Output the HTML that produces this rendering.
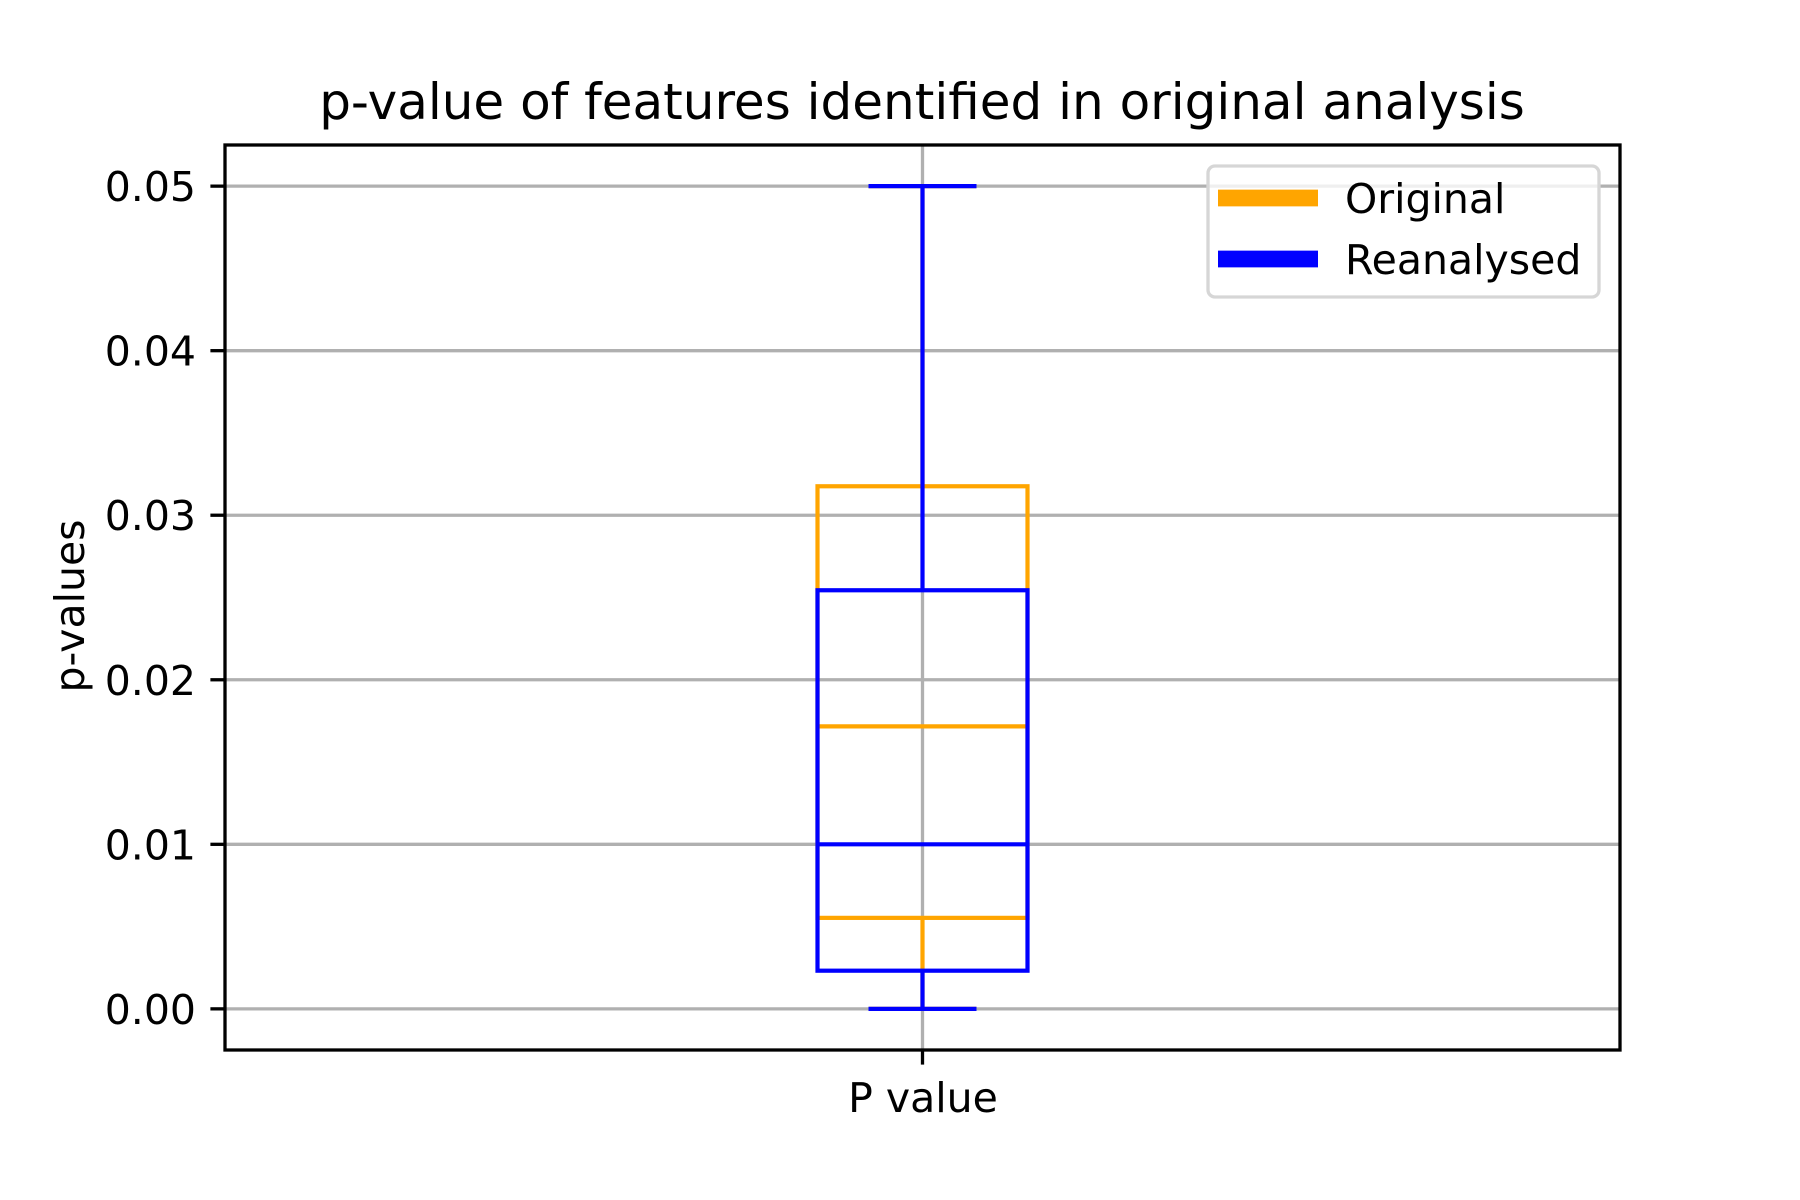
<!DOCTYPE html>
<html><head><meta charset="utf-8"><style>
html,body{margin:0;padding:0;background:#fff;}
svg{display:block;font-family:"DejaVu Sans","Liberation Sans",sans-serif;}
</style></head><body>
<svg id="chart" width="1800" height="1200" viewBox="0 0 1800 1200" xmlns="http://www.w3.org/2000/svg">
<rect x="0" y="0" width="1800" height="1200" fill="#fff"/>
<g id="grid"></g>
<g id="marks"></g>
<g id="axes"></g>
<text x="922" y="119" font-size="50" text-anchor="middle" fill="#000">p-value of features identified in original analysis</text>
<text transform="translate(84,606) rotate(-90)" font-size="41" text-anchor="middle" fill="#000">p-values</text>
<text x="923" y="1112" font-size="41" text-anchor="middle" fill="#000">P value</text>
<g>
<rect x="1208" y="166" width="391" height="131" rx="7" fill="#fff" fill-opacity="0.8" stroke="#d6d6d6" stroke-width="3.3"/>
<line x1="1218" y1="198" x2="1318" y2="198" stroke="#ffa500" stroke-width="16.7"/>
<text x="1345" y="213" font-size="41" fill="#000">Original</text>
<line x1="1218" y1="259" x2="1318" y2="259" stroke="#0000ff" stroke-width="16.7"/>
<text x="1345" y="274" font-size="41" fill="#000">Reanalysed</text>
</g>
</svg>
<script>
const seriesNames = ["Original", "Reanalysed"];
const seriesColors = ["#ffa500", "#0000ff"];
const q1Values = [0.00553, 0.00232];
const medianValues = [0.01717, 0.0100];
const q3Values = [0.03176, 0.02544];
const whiskerLow = [0.0, 0.0];
const whiskerHigh = [0.05, 0.05];
const yTicks = [0, 0.01, 0.02, 0.03, 0.04, 0.05];
const yTickLabels = ["0.00", "0.01", "0.02", "0.03", "0.04", "0.05"];
const xCategories = ["P value"];

const NS = "http://www.w3.org/2000/svg";
const L = 225, R = 1620, T = 145, B = 1050;
const yMin = -0.0025, yMax = 0.0525;
function yScale(v){ return B - (v - yMin) / (yMax - yMin) * (B - T); }
function xScale(i){ return L + (i + 0.5) / xCategories.length * (R - L); }
function mk(tag, attrs, parent){ const e = document.createElementNS(NS, tag); for (const k in attrs) e.setAttribute(k, attrs[k]); parent.appendChild(e); return e; }

const grid = document.getElementById('grid');
const marks = document.getElementById('marks');
const axes = document.getElementById('axes');

yTicks.forEach((t, i) => {
  const y = yScale(t);
  const g = mk('line', {x1: L, x2: R, y1: y, y2: y, stroke: '#b0b0b0', 'stroke-width': 3.3}, grid);
  
  
  const tk = mk('line', {x1: L - 14.6, x2: L, y1: y, y2: y, stroke: '#000', 'stroke-width': 3.3}, axes);
  
  
  const tx = mk('text', {x: L - 29, y: y + 15, 'font-size': 41, 'text-anchor': 'end', fill: '#000'}, axes);
  tx.textContent = yTickLabels[i];
  
  
});
xCategories.forEach((c, i) => {
  const x = xScale(i);
  const g = mk('line', {x1: x, x2: x, y1: T, y2: B, stroke: '#b0b0b0', 'stroke-width': 3.3}, grid);
  
  
  const tk = mk('line', {x1: x, x2: x, y1: B, y2: B + 14.6, stroke: '#000', 'stroke-width': 3.3}, axes);
  
  
});

const halfBox = 105, halfCap = 54;
seriesNames.forEach((name, s) => {
  const x = xScale(0), col = seriesColors[s];
  const grp = mk('g', {fill: 'none', stroke: col, 'stroke-width': 4.2}, marks);
  
  
  const wl = mk('line', {x1: x, x2: x, y1: yScale(q1Values[s]), y2: yScale(whiskerLow[s])}, grp);
  
  
  const wh = mk('line', {x1: x, x2: x, y1: yScale(q3Values[s]), y2: yScale(whiskerHigh[s])}, grp);
  
  
  const cl = mk('line', {x1: x - halfCap, x2: x + halfCap, y1: yScale(whiskerLow[s]), y2: yScale(whiskerLow[s])}, grp);
  
  
  const ch = mk('line', {x1: x - halfCap, x2: x + halfCap, y1: yScale(whiskerHigh[s]), y2: yScale(whiskerHigh[s])}, grp);
  
  
  const bx = mk('rect', {x: x - halfBox, y: yScale(q3Values[s]), width: 2 * halfBox, height: yScale(q1Values[s]) - yScale(q3Values[s])}, grp);
  
  
  const md = mk('line', {x1: x - halfBox, x2: x + halfBox, y1: yScale(medianValues[s]), y2: yScale(medianValues[s])}, grp);
  
  
});

const frame = mk('rect', {x: L, y: T, width: R - L, height: B - T, fill: 'none', stroke: '#000', 'stroke-width': 3.3}, axes);


</script>
</body></html>
